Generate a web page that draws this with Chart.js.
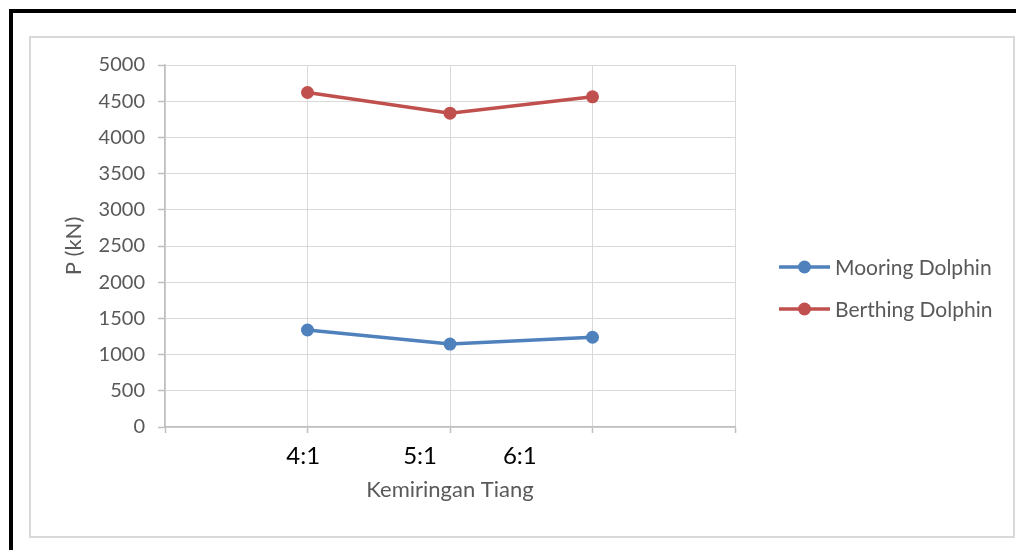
<!DOCTYPE html>
<html>
<head>
<meta charset="utf-8">
<title>P (kN) vs Kemiringan Tiang</title>
<script src="https://cdn.jsdelivr.net/npm/chart.js@4/dist/chart.umd.min.js"></script>
<style>
  html, body { margin: 0; padding: 0; background: #fff; width: 1016px; height: 550px; overflow: hidden; }
  #frame { position: absolute; left: 9px; top: 9px; width: 1100px; height: 600px; border: 4px solid #000; box-sizing: border-box; }
  #panel { position: absolute; left: 29px; top: 36px; width: 982px; height: 498px; border: 2px solid #d9d9d9; background: #fff; }
  #panel canvas { display: block; }
</style>
</head>
<body>
<div id="frame"></div>
<div id="panel"><canvas id="chart" width="982" height="498"></canvas></div>
<script>
// Pile inclination ratios and the resulting axial force P (kN)
const categories = ['4:1', '5:1', '6:1'];
const mooringDolphin = [1340, 1145, 1240];
const berthingDolphin = [4620, 4335, 4560];
const seriesNames = ['Mooring Dolphin', 'Berthing Dolphin'];
const yRange = [0, 5000];
const yStep = 500;

const FONT = 'Lato, "Open Sans", sans-serif';
const GREY_TEXT = '#595959';
const BLUE = '#4F81BD';
const RED = '#C0504D';
const GRID = '#d9d9d9';
const AXIS = '#bfbfbf';

// where the ratio labels sit along the 0..4 x range
const tickLabelAt = [0.97, 1.79, 2.49];

const toPoints = values => values.map((v, i) => ({ x: i + 1, y: v }));

function series(label, values, color) {
  return {
    label,
    data: toPoints(values),
    borderColor: color,
    backgroundColor: color,
    pointBackgroundColor: color,
    borderWidth: 3.5,
    pointRadius: 6.5,
    pointHoverRadius: 6.5,
    pointBorderWidth: 0,
    tension: 0,
    xAxisID: 'x',
    yAxisID: 'y'
  };
}

// Legend to the right of the plot: line-with-dot symbol followed by the series name
const sideLegend = {
  id: 'sideLegend',
  afterDraw(chart) {
    const { ctx, chartArea } = chart;
    const sets = chart.data.datasets;
    const rowGap = 42;
    const midY = chart.height / 2 + 1;
    const x0 = chartArea.right + 44;
    ctx.save();
    ctx.font = '21px ' + FONT;
    ctx.textBaseline = 'middle';
    ctx.textAlign = 'left';
    sets.forEach((ds, i) => {
      const y = midY + (i - (sets.length - 1) / 2) * rowGap;
      ctx.strokeStyle = ds.borderColor;
      ctx.lineWidth = 3.5;
      ctx.beginPath();
      ctx.moveTo(x0, y);
      ctx.lineTo(x0 + 51, y);
      ctx.stroke();
      ctx.fillStyle = ds.borderColor;
      ctx.beginPath();
      ctx.arc(x0 + 25.5, y, 6.5, 0, Math.PI * 2);
      ctx.fill();
      ctx.fillStyle = GREY_TEXT;
      ctx.fillText(ds.label, x0 + 56, y + 1);
    });
    ctx.restore();
  }
};

new Chart(document.getElementById('chart'), {
  type: 'line',
  data: {
    datasets: [
      series(seriesNames[0], mooringDolphin, BLUE),
      series(seriesNames[1], berthingDolphin, RED)
    ]
  },
  plugins: [sideLegend],
  options: {
    responsive: false,
    animation: false,
    devicePixelRatio: 1,
    layout: { padding: { top: 27, left: 22, bottom: 25, right: 278 } },
    plugins: {
      tooltip: { enabled: false },
      legend: { display: false }
    },
    scales: {
      x: {
        type: 'linear',
        position: 'bottom',
        min: 0,
        max: 4,
        ticks: { stepSize: 1, display: false },
        grid: { color: GRID, lineWidth: 1, drawTicks: true, tickLength: 6, tickColor: AXIS, tickWidth: 1.5 },
        border: { color: AXIS, width: 1.5 }
      },
      xLabels: {
        type: 'linear',
        axis: 'x',
        position: 'bottom',
        min: 0,
        max: 4,
        grid: { display: false, drawTicks: false },
        border: { display: false },
        afterBuildTicks: s => { s.ticks = tickLabelAt.map(v => ({ value: v })); },
        ticks: {
          autoSkip: false,
          maxRotation: 0,
          padding: 9,
          color: '#000',
          font: { family: FONT, size: 24 },
          callback: (v, i) => categories[i]
        },
        title: {
          display: true,
          text: 'Kemiringan Tiang',
          color: GREY_TEXT,
          font: { family: FONT, size: 22 },
          padding: { top: 0, bottom: 8 }
        },
        afterFit: s => { s.height = 78; }
      },
      y: {
        type: 'linear',
        position: 'left',
        min: yRange[0],
        max: yRange[1],
        ticks: {
          stepSize: yStep,
          padding: 13,
          color: GREY_TEXT,
          font: { family: FONT, size: 20 },
          callback: v => String(v)
        },
        grid: { color: GRID, lineWidth: 1, tickLength: 7, tickColor: AXIS, tickWidth: 1.5 },
        border: { color: AXIS, width: 1.5 },
        title: {
          display: true,
          text: 'P (kN)',
          color: GREY_TEXT,
          font: { family: FONT, size: 22 },
          padding: { top: 8, bottom: 0 }
        },
        afterFit: s => { s.width = 112; }
      }
    }
  }
});
</script>
</body>
</html>
